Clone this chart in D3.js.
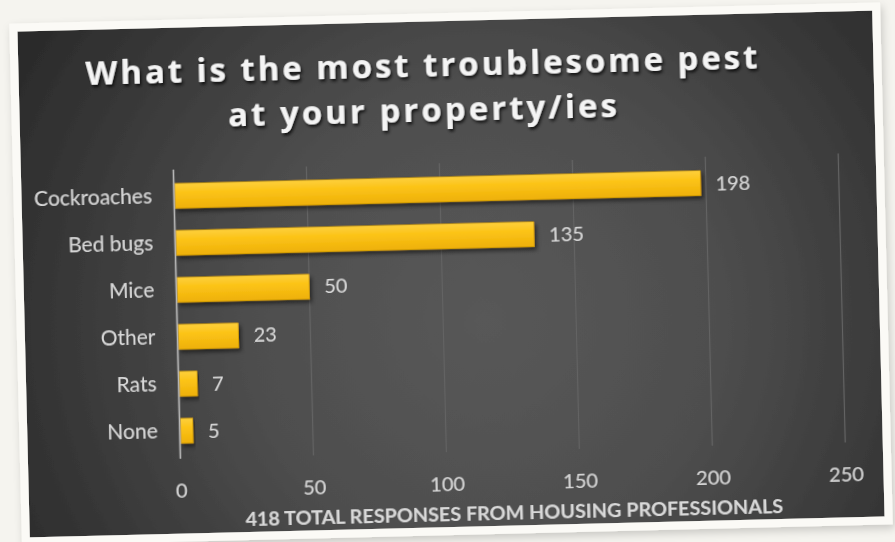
<!DOCTYPE html>
<html><head><meta charset="utf-8">
<script src="https://cdn.jsdelivr.net/npm/d3@7/dist/d3.min.js"></script>
<style>
html,body{margin:0;padding:0;background:#f5f4ef;overflow:hidden}
svg{display:block}
</style></head>
<body>
<svg id="c" width="895" height="542"></svg>
<script>
// ---- data ----
const categories = ["Cockroaches","Bed bugs","Mice","Other","Rats","None"];
const values = [198,135,50,23,7,5];
const xTicks = [0,50,100,150,200,250];
const titleLines = ["What is the most troublesome pest","at your property/ies"];
const axisTitle = "418 TOTAL RESPONSES FROM HOUSING PROFESSIONALS";

const W = 855, H = 506;
const svg = d3.select("#c");
const defs = svg.append("defs");

const rg = defs.append("radialGradient").attr("id","panelGrad")
  .attr("gradientUnits","userSpaceOnUse").attr("cx",460).attr("cy",300).attr("r",520);
rg.append("stop").attr("offset","0%").attr("stop-color","#585858");
rg.append("stop").attr("offset","45%").attr("stop-color","#4e4e4e");
rg.append("stop").attr("offset","100%").attr("stop-color","#2c2c2c");

const bg = defs.append("linearGradient").attr("id","barGrad").attr("x1",0).attr("y1",0).attr("x2",0).attr("y2",1);
bg.append("stop").attr("offset","0%").attr("stop-color","#fdcf3c");
bg.append("stop").attr("offset","35%").attr("stop-color","#fcc419");
bg.append("stop").attr("offset","100%").attr("stop-color","#eeb008");

const fShadow = defs.append("filter").attr("id","frameShadow").attr("x","-5%").attr("y","-5%").attr("width","110%").attr("height","110%");
fShadow.append("feDropShadow").attr("dx",2).attr("dy",4).attr("stdDeviation",4).attr("flood-color","#000").attr("flood-opacity",0.18);

const barShadow = defs.append("filter").attr("id","barShadow").attr("x","-10%").attr("y","-40%").attr("width","120%").attr("height","200%");
barShadow.append("feDropShadow").attr("dx",2).attr("dy",3).attr("stdDeviation",2).attr("flood-color","#000").attr("flood-opacity",0.55);

const txtShadow = defs.append("filter").attr("id","txtShadow").attr("x","-5%").attr("y","-30%").attr("width","110%").attr("height","160%");
txtShadow.append("feDropShadow").attr("dx",1.5).attr("dy",2.5).attr("stdDeviation",1.5).attr("flood-color","#000").attr("flood-opacity",0.75);

const soft = defs.append("filter").attr("id","soft");
soft.append("feGaussianBlur").attr("stdDeviation",0.35);

const g = svg.append("g")
  .attr("transform",`translate(451,274) rotate(-1.4) translate(${-W/2},${-H/2})`)
  .attr("filter","url(#soft)");

g.append("rect").attr("x",-8).attr("y",-8).attr("width",W+16).attr("height",H+16)
  .attr("fill","#fbfaf6").attr("filter","url(#frameShadow)");
g.append("rect").attr("x",0).attr("y",0).attr("width",W).attr("height",H).attr("fill","url(#panelGrad)");

// scales
const x = d3.scaleLinear().domain([0,250]).range([152.5,817.5]);
const y = d3.scaleBand().domain(categories).range([144.8,426.8]).paddingInner(0.47).paddingOuter(0.235);

// gridlines
g.append("g").selectAll("line").data(xTicks.filter(d=>d>0)).join("line")
  .attr("x1",d=>x(d)).attr("x2",d=>x(d)).attr("y1",142).attr("y2",431)
  .attr("stroke","#636363").attr("stroke-width",1.2);

// bars
g.append("g").selectAll("rect").data(values).join("rect")
  .attr("x",x(0)+1).attr("y",(d,i)=>y(categories[i]))
  .attr("width",d=>x(d)-x(0)-1).attr("height",y.bandwidth())
  .attr("fill","url(#barGrad)").attr("stroke","#d9a000").attr("stroke-width",0.6)
  .attr("filter","url(#barShadow)");

// zero axis line
g.append("line").attr("x1",x(0)).attr("x2",x(0)).attr("y1",142).attr("y2",431)
  .attr("stroke","#b8b8b8").attr("stroke-width",1.6);

const FONT = "Lato, 'Open Sans', sans-serif";

// y axis labels
const ya = g.append("g").attr("transform",`translate(${x(0)},0)`)
  .call(d3.axisLeft(y).tickSize(0).tickPadding(22));
ya.select(".domain").remove();
ya.selectAll("text").attr("fill","#d9d9d9").style("font-family",FONT).style("font-size","21px");

// x axis labels
const xa = g.append("g").attr("transform",`translate(0,462.3)`)
  .call(d3.axisBottom(x).tickValues(xTicks).tickSize(0).tickPadding(0));
xa.select(".domain").remove();
xa.selectAll("text").attr("y",0).attr("dy","0.36em").attr("fill","#d9d9d9")
  .style("font-family",FONT).style("font-size","20px");

// value labels
g.append("g").selectAll("text").data(values).join("text")
  .attr("x",d=>x(d)+15).attr("y",(d,i)=>y(categories[i])+y.bandwidth()/2).attr("dy","0.36em")
  .attr("fill","#d9d9d9").style("font-family",FONT).style("font-size","20px")
  .text(d=>d);

// title
const titleTargets = [672, 389];
const tl = g.append("g").attr("filter","url(#txtShadow)");
titleLines.forEach((t,i)=>{
  const el = tl.append("text").attr("x",403).attr("y",[43.3,88.3][i]).attr("dy","0.36em")
    .attr("text-anchor","middle").attr("fill","#f4f4f4")
    .style("font-family","'Open Sans', Lato, sans-serif").style("font-weight","700").style("font-size","33px")
    .text(t);
  const w = el.node().getComputedTextLength();
  const ls = (titleTargets[i]-w)/(t.length-1);
  el.style("letter-spacing",ls+"px").attr("x",403+ls/2);
});

// axis title
const at = g.append("text").attr("x",485).attr("y",492.5).attr("dy","0.36em")
  .attr("text-anchor","middle").attr("fill","#d9d9d9")
  .style("font-family",FONT).style("font-weight","700").style("font-size","20px")
  .text(axisTitle);
const aw = at.node().getComputedTextLength();
at.style("font-size",(20*538/aw)+"px");
</script>
</body></html>
